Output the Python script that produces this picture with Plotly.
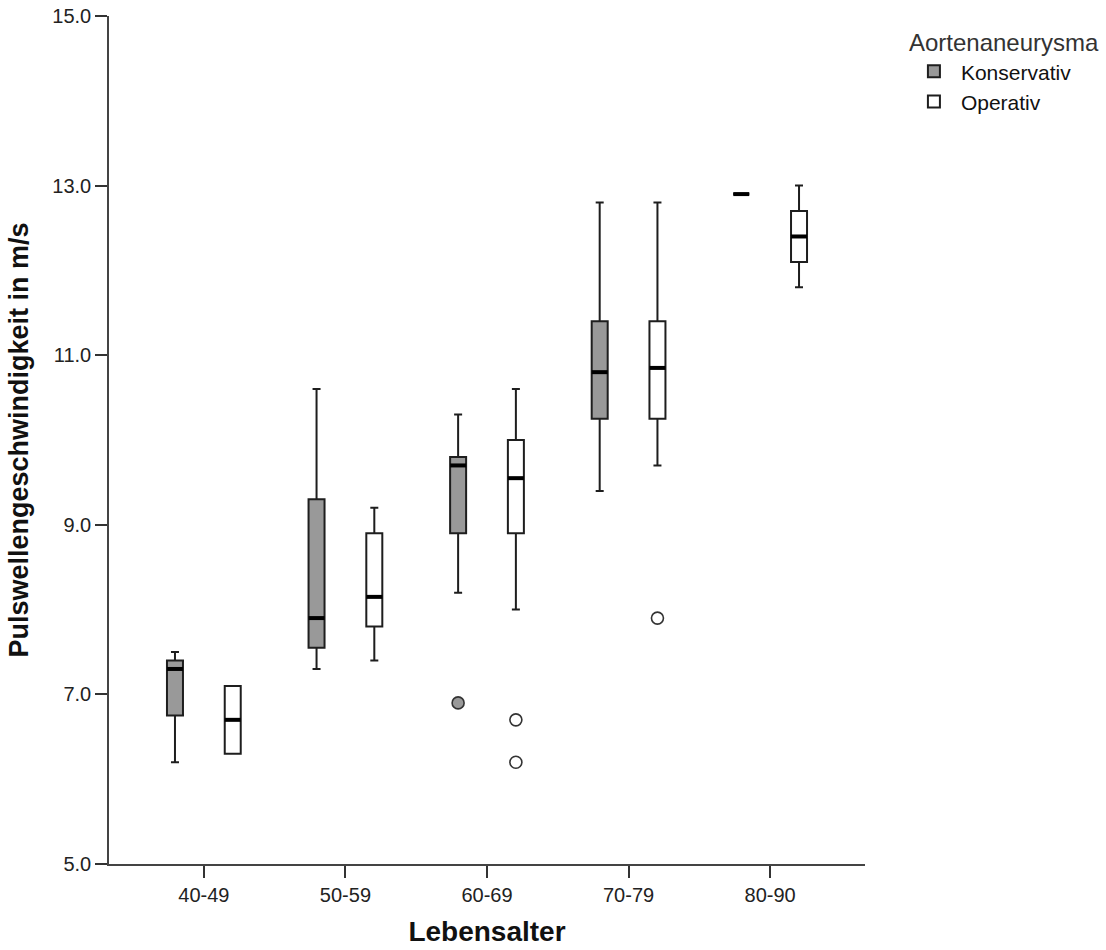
import plotly.graph_objects as go

# Age groups (x categories)
categories = ["40-49", "50-59", "60-69", "70-79", "80-90"]

# Pulse wave velocity (m/s) box statistics per age group
# Konservativ
kons_lower = [6.2, 7.3, 8.2, 9.4, 12.9]
kons_q1 = [6.75, 7.55, 8.9, 10.25, 12.9]
kons_median = [7.3, 7.9, 9.7, 10.8, 12.9]
kons_q3 = [7.4, 9.3, 9.8, 11.4, 12.9]
kons_upper = [7.5, 10.6, 10.3, 12.8, 12.9]
kons_outlier_group = ["60-69"]
kons_outlier_value = [6.9]

# Operativ
oper_lower = [6.3, 7.4, 8.0, 9.7, 11.8]
oper_q1 = [6.3, 7.8, 8.9, 10.25, 12.1]
oper_median = [6.7, 8.15, 9.55, 10.85, 12.4]
oper_q3 = [7.1, 8.9, 10.0, 11.4, 12.7]
oper_upper = [7.1, 9.2, 10.6, 12.8, 13.0]
oper_outlier_group = ["60-69", "60-69", "70-79"]
oper_outlier_value = [6.7, 6.2, 7.9]

y_ticks = [5, 7, 9, 11, 13, 15]
y_ticktext = ["5.0", "7.0", "9.0", "11.0", "13.0", "15.0"]

FONT = "Liberation Sans, Arial, sans-serif"
GREY = "#999999"
EDGE = "#1e1e1e"
BOX_W = 0.113
OFFSET = 0.204

idx = {c: i for i, c in enumerate(categories)}

series = [
    dict(name="Konservativ", fill=GREY, off=-OFFSET,
         lo=kons_lower, q1=kons_q1, med=kons_median, q3=kons_q3, hi=kons_upper,
         og=kons_outlier_group, ov=kons_outlier_value),
    dict(name="Operativ", fill="#ffffff", off=OFFSET,
         lo=oper_lower, q1=oper_q1, med=oper_median, q3=oper_q3, hi=oper_upper,
         og=oper_outlier_group, ov=oper_outlier_value),
]

fig = go.Figure()

for s in series:
    pos = [i + s["off"] for i in range(len(categories))]
    fig.add_trace(go.Box(
        name=s["name"],
        x=pos,
        q1=s["q1"], median=s["med"], q3=s["q3"],
        lowerfence=s["lo"], upperfence=s["hi"],
        width=BOX_W,
        whiskerwidth=0.5,
        fillcolor=s["fill"],
        line=dict(color=EDGE, width=2),
        boxpoints=False,
        hoverinfo="skip",
    ))

for s in series:
    pos = [i + s["off"] for i in range(len(categories))]
    # thick median bars
    mx, my = [], []
    for p, m in zip(pos, s["med"]):
        mx += [p - BOX_W / 2, p + BOX_W / 2, None]
        my += [m, m, None]
    fig.add_trace(go.Scatter(
        x=mx, y=my, mode="lines",
        line=dict(color="#000000", width=4),
        showlegend=False, hoverinfo="skip",
    ))
    # outliers
    fig.add_trace(go.Scatter(
        x=[idx[g] + s["off"] for g in s["og"]],
        y=s["ov"],
        mode="markers",
        marker=dict(symbol="circle", size=12, color=s["fill"],
                    line=dict(color="#333333", width=1.6)),
        showlegend=False, hoverinfo="skip",
    ))

fig.update_layout(
    width=1106, height=950, autosize=False,
    margin=dict(l=109, r=241, t=16, b=86),
    paper_bgcolor="white", plot_bgcolor="white",
    font=dict(family=FONT, color="#222222"),
    showlegend=True,
    legend=dict(
        title=dict(text="Aortenaneurysma", font=dict(size=24, color="#333333")),
        font=dict(size=21, color="#111111"),
        xref="container", yref="container",
        x=0.82, xanchor="left", y=0.979, yanchor="top",
        tracegroupgap=0, itemwidth=44,
        bgcolor="rgba(0,0,0,0)",
    ),
    xaxis=dict(
        range=[-0.67, 4.67], automargin=False,
        tickmode="array", tickvals=list(range(len(categories))), ticktext=categories,
        ticks="outside", ticklen=12, tickwidth=2, tickcolor="#333333",
        showline=True, linecolor="#444444", linewidth=1.5,
        showgrid=False, zeroline=False,
        tickfont=dict(size=20, color="#222222"),
        title=dict(text="<b>Lebensalter</b>", font=dict(size=28, color="#111111"), standoff=17),
    ),
    yaxis=dict(
        range=[5, 15], automargin=False,
        tickmode="array", tickvals=y_ticks, ticktext=y_ticktext,
        ticks="outside", ticklen=12, tickwidth=2, tickcolor="#333333",
        showline=True, linecolor="#444444", linewidth=1.5,
        showgrid=False, zeroline=False,
        tickfont=dict(size=20, color="#222222"),
        title=dict(text="<b>Pulswellengeschwindigkeit in m/s</b>",
                   font=dict(size=27, color="#111111"), standoff=16),
    ),
)

fig.write_html("out.html")
